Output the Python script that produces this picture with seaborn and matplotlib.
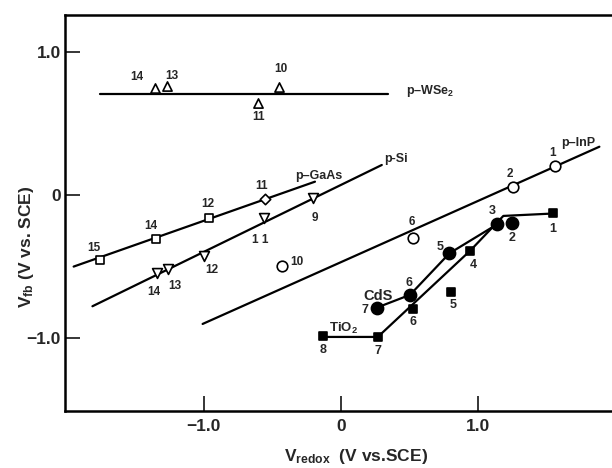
import matplotlib
matplotlib.use("Agg")
import matplotlib.pyplot as plt
import seaborn as sns

# ---- data: flat-band potential vs. redox potential ----
# p-WSe2 (open up-triangles)
wse2_x = [-1.355, -1.27, -0.60, -0.448]
wse2_y = [0.748, 0.764, 0.643, 0.759]
wse2_lab = ["14", "13", "11", "10"]
wse2_line_x = [-1.756, 0.343]
wse2_line_y = [0.708, 0.708]

# p-GaAs (open squares + one diamond)
gaas_sq_x = [-1.756, -1.35, -0.958]
gaas_sq_y = [-0.455, -0.31, -0.159]
gaas_sq_lab = ["15", "14", "12"]
gaas_d_x = [-0.553]
gaas_d_y = [-0.030]
gaas_d_lab = ["11"]
gaas_line_x = [-1.947, -0.188]
gaas_line_y = [-0.502, 0.093]

# p-Si (open down-triangles)
si_x = [-1.343, -1.257, -0.998, -0.557, -0.20]
si_y = [-0.549, -0.521, -0.427, -0.159, -0.023]
si_lab = ["14", "13", "12", "1 1", "9"]
si_line_x = [-1.81, 0.299]
si_line_y = [-0.78, 0.21]

# p-InP (open circles)
inp_x = [1.562, 1.258, 0.53, -0.426]
inp_y = [0.203, 0.058, -0.299, -0.498]
inp_lab = ["1", "2", "6", "10"]
inp_line_x = [-1.007, 1.885]
inp_line_y = [-0.904, 0.338]

# CdS (filled circles)
cds_x = [0.262, 0.505, 0.792, 1.141, 1.246]
cds_y = [-0.79, -0.70, -0.409, -0.205, -0.199]
cds_lab = ["7", "6", "5", "3", "2"]
cds_line_x = [0.262, 0.505, 0.792, 1.141]
cds_line_y = [-0.79, -0.70, -0.409, -0.205]

# TiO2 (filled squares)
tio2_x = [1.55, 0.944, 0.804, 0.53, 0.27, -0.127]
tio2_y = [-0.128, -0.39, -0.678, -0.797, -0.995, -0.99]
tio2_lab = ["1", "4", "5", "6", "7", "8"]
tio2_line_x = [-0.127, 0.27, 0.944, 1.185, 1.55]
tio2_line_y = [-0.995, -0.995, -0.39, -0.147, -0.13]

x_ticks = [-1.0, 0.0, 1.0]
x_tick_labels = ["\u22121.0", "0", "1.0"]
y_ticks = [-1.0, 0.0, 1.0]
y_tick_labels = ["\u22121.0", "0", "1.0"]

# ---- style ----
sns.set_theme(style="white")
plt.rcParams["font.family"] = ["Liberation Sans", "DejaVu Sans"]
plt.rcParams["font.weight"] = "bold"
plt.rcParams["mathtext.fontset"] = "custom"
plt.rcParams["mathtext.rm"] = "Liberation Sans:bold"
plt.rcParams["mathtext.bf"] = "Liberation Sans:bold"
plt.rcParams["mathtext.it"] = "Liberation Sans:bold"

PX = 72.0 / 100.0  # points per pixel at dpi 100

fig = plt.figure(figsize=(6.12, 4.68), dpi=100)
ax = fig.add_axes([65 / 612, 1 - 411 / 468, 1 - 65 / 612, (411 - 15) / 468])

LW = 1.6


def line(xs, ys):
    sns.lineplot(x=xs, y=ys, sort=False, estimator=None, color="black",
                 linewidth=LW, ax=ax, zorder=2)


def points(xs, ys, marker, size, filled):
    sns.scatterplot(x=xs, y=ys, marker=marker, s=size,
                    color="black" if filled else "white",
                    edgecolor="black", linewidth=1.2, ax=ax, zorder=3)


def labels(xs, ys, labs, offs, size=8.5):
    for x, y, t, (dx, dy) in zip(xs, ys, labs, offs):
        ax.annotate(t, (x, y), xytext=(dx * PX, dy * PX),
                    textcoords="offset points", ha="center", va="center",
                    fontsize=size, fontweight="bold")


# lines
line(wse2_line_x, wse2_line_y)
line(gaas_line_x, gaas_line_y)
line(si_line_x, si_line_y)
line(inp_line_x, inp_line_y)
line(cds_line_x, cds_line_y)
line(tio2_line_x, tio2_line_y)

# markers
points(wse2_x, wse2_y, "^", 44, False)
points(gaas_sq_x, gaas_sq_y, "s", 32, False)
points(gaas_d_x, gaas_d_y, "D", 28, False)
points(si_x, si_y, "v", 50, False)
points(inp_x, inp_y, "o", 58, False)
points(cds_x, cds_y, "o", 76, True)
points(tio2_x, tio2_y, "s", 34, True)

# point numbers (offsets in pixels)
labels(wse2_x, wse2_y, wse2_lab, [(-18, 11), (5, 10), (0, -14), (2, 18)])
labels(gaas_sq_x, gaas_sq_y, gaas_sq_lab, [(-6, 12), (-5, 13), (-2, 14)])
labels(gaas_d_x, gaas_d_y, gaas_d_lab, [(-3, 13)])
labels(si_x, si_y, si_lab, [(-3, -19), (7, -17), (8, -14), (-4, -22), (2, -20)])
labels(inp_x, inp_y, inp_lab, [(-3, 13), (-3, 13), (-2, 16), (15, 4)])
labels(cds_x, cds_y, cds_lab, [(-12, -2), (-1, 12), (-9, 6), (-5, 13), (0, -15)], size=9)
labels(tio2_x, tio2_y, tio2_lab, [(-1, -16), (3, -14), (2, -13), (0, -13), (0, -14), (0, -14)], size=9)

# series names
ax.text(0.476, 0.731, r"p–WSe$_\mathbf{2}$", ha="left", va="center", fontsize=9, fontweight="bold")
ax.text(-0.158, 0.133, "p–GaAs", ha="center", va="center", fontsize=9, fontweight="bold")
ax.text(0.403, 0.252, "p-Si", ha="center", va="center", fontsize=9, fontweight="bold")
ax.text(1.733, 0.366, "p–InP", ha="center", va="center", fontsize=9, fontweight="bold")
ax.text(0.272, -0.705, "CdS", ha="center", va="center", fontsize=10.5, fontweight="bold")
ax.text(0.017, -0.935, r"TiO$_\mathbf{2}$", ha="center", va="center", fontsize=9.5, fontweight="bold")

# axes
ax.set_xlim(-2.01, 1.977)
ax.set_ylim(-1.514, 1.261)
ax.set_xticks(x_ticks)
ax.set_xticklabels(x_tick_labels)
ax.set_yticks(y_ticks)
ax.set_yticklabels(y_tick_labels)
ax.tick_params(direction="in", length=11, width=1.3, labelsize=12.5,
               bottom=True, left=True, top=False, right=False)
ax.tick_params(axis="x", pad=6)
ax.tick_params(axis="y", pad=3)
for lab in ax.get_xticklabels() + ax.get_yticklabels():
    lab.set_fontweight("bold")
for side in ("left", "bottom", "top"):
    ax.spines[side].set_visible(True)
    ax.spines[side].set_color("black")
    ax.spines[side].set_linewidth(1.8)
ax.spines["right"].set_visible(False)
ax.set_xlabel("")
ax.set_ylabel("")

fig.text(356 / 612, 1 - 456 / 468, r"V$_\mathbf{redox}$  (V vs.SCE)",
         ha="center", va="center", fontsize=12.5, fontweight="bold")
fig.text(27 / 612, 1 - 247 / 468, r"V$_\mathbf{fb}$ (V vs. SCE)",
         ha="center", va="center", rotation=90, fontsize=12.5, fontweight="bold")

fig.savefig("out.png", dpi=100, facecolor="white")
